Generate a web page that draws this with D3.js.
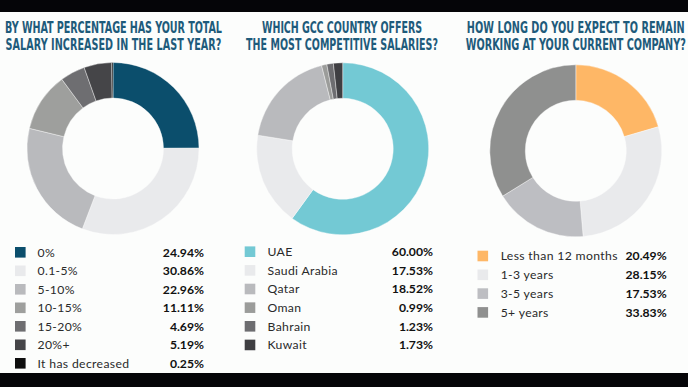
<!DOCTYPE html>
<html><head><meta charset="utf-8">
<script src="https://cdn.jsdelivr.net/npm/d3@7"></script>
<style>
html,body{margin:0;padding:0;background:#fcfdfc;}
svg{display:block;}
</style></head>
<body>
<svg id="chart" width="688" height="387"></svg>
<script>
// ---- data ----
const titles1 = ["BY WHAT PERCENTAGE HAS YOUR TOTAL", "SALARY INCREASED IN THE LAST YEAR?"];
const categories1 = ["0%", "0.1-5%", "5-10%", "10-15%", "15-20%", "20%+", "It has decreased"];
const values1 = [24.94, 30.86, 22.96, 11.11, 4.69, 5.19, 0.25];
const colors1 = ["#0b4e6c", "#e9eaec", "#b9babd", "#9e9f9d", "#6e6e71", "#454548", "#0e0e0e"];

const titles2 = ["WHICH GCC COUNTRY OFFERS", "THE MOST COMPETITIVE SALARIES?"];
const categories2 = ["UAE", "Saudi Arabia", "Qatar", "Oman", "Bahrain", "Kuwait"];
const values2 = [60.00, 17.53, 18.52, 0.99, 1.23, 1.73];
const colors2 = ["#73c9d4", "#e9eaec", "#b9babd", "#9b9c9a", "#6d6d70", "#3f3f42"];

const titles3 = ["HOW LONG DO YOU EXPECT TO REMAIN", "WORKING AT YOUR CURRENT COMPANY?"];
const categories3 = ["Less than 12 months", "1-3 years", "3-5 years", "5+ years"];
const values3 = [20.49, 28.15, 17.53, 33.83];
const colors3 = ["#feb766", "#e9eaec", "#bdbec2", "#8f908f"];

// ---- layout ----
const svg = d3.select("#chart");
svg.append("rect").attr("x",0).attr("y",0).attr("width",688).attr("height",12).attr("fill","#050508");
svg.append("rect").attr("x",0).attr("y",373).attr("width",688).attr("height",14).attr("fill","#050508");

const panels = [
  {titles: titles1, tw: [217, 216], cats: categories1, vals: values1, cols: colors1, cx: 113, cy: 148.5, tx: 113.5,
   swX: 15, labX: 37.5, valX: 204, legY: 252.3, legDy: 18.5},
  {titles: titles2, tw: [160, 192], cats: categories2, vals: values2, cols: colors2, cx: 342.7, cy: 148.8, tx: 342,
   swX: 244.7, labX: 267.5, valX: 433, legY: 251.7, legDy: 18.65},
  {titles: titles3, tw: [218, 220], cats: categories3, vals: values3, cols: colors3, cx: 575.8, cy: 150.8, tx: 575.8,
   swX: 477.5, labX: 500.7, valX: 666.7, legY: 256, legDy: 18.8}
];

const outerR = 86, innerR = 50.5;
const pie = d3.pie().sort(null).value(d => d);
const arc = d3.arc().innerRadius(innerR).outerRadius(outerR);

panels.forEach(p => {
  const g = svg.append("g");
  // title: one text with two lines, condensed by horizontal scaling
  const tg = g.append("g");
  const t = tg.append("text").attr("text-anchor","middle")
    .attr("font-family","'DejaVu Sans Condensed','DejaVu Sans',sans-serif")
    .attr("font-weight","bold").attr("font-size",16.5).attr("fill","#1e5b7b");
  const spans = p.titles.map((line,i) =>
    t.append("tspan").attr("x", 0).attr("y", i*17).text(line));
  const nat = spans.map(s => s.node().getComputedTextLength());
  const sx = d3.mean(nat.map((n,i) => p.tw[i] / n));
  // fine-tune each line with letter-spacing so widths match
  spans.forEach((s,i) => {
    const target = p.tw[i] / sx;
    const n = p.titles[i].length;
    s.attr("letter-spacing", (target - nat[i]) / n);
  });
  tg.attr("transform", `translate(${p.tx},33) scale(${sx},1)`);
  // donut
  const color = d3.scaleOrdinal().domain(p.cats).range(p.cols);
  const dg = g.append("g").attr("transform", `translate(${p.cx},${p.cy})`);
  dg.selectAll("path").data(pie(p.vals)).join("path")
    .attr("d", arc)
    .attr("fill", (d,i) => color(p.cats[i]))
    .attr("stroke","#fcfdfc").attr("stroke-width",0.4);
  // legend
  const y = d3.scaleLinear().domain([0,1]).range([p.legY, p.legY + p.legDy]);
  const rows = g.selectAll("g.row").data(p.cats).join("g").attr("class","row")
    .attr("transform",(d,i)=>`translate(0,${y(i)})`);
  rows.append("rect").attr("x", p.swX).attr("y",-5.3).attr("width",10.6).attr("height",10.6)
    .attr("fill", d => color(d));
  rows.append("text").attr("x", p.labX).attr("y", 4.3)
    .attr("font-family","Lato, 'Open Sans', sans-serif").attr("font-size",12.2)
    .attr("letter-spacing",0.35).attr("fill","#2a2a2a").text(d => d);
  rows.append("text").attr("x", p.valX).attr("y", 4.3).attr("text-anchor","end")
    .attr("font-family","Lato, 'Open Sans', sans-serif").attr("font-weight","bold").attr("font-size",12.2)
    .attr("fill","#111").text((d,i) => p.vals[i].toFixed(2) + "%");
});
</script>
</body></html>
